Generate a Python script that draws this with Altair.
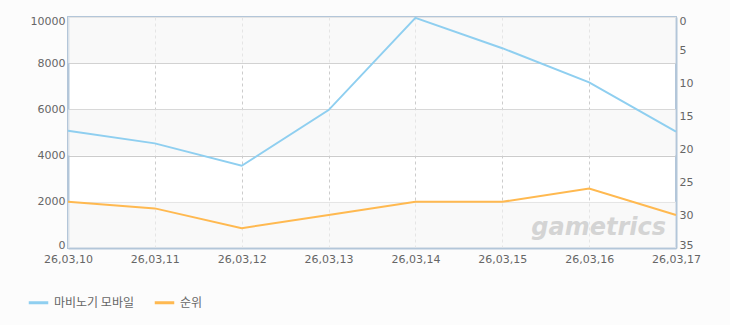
import altair as alt
import pandas as pd

dates = ["26,03,10", "26,03,11", "26,03,12", "26,03,13", "26,03,14", "26,03,15", "26,03,16", "26,03,17"]
players = [5080, 4530, 3560, 5970, 9960, 8650, 7170, 5040]
ranks = [28, 29, 32, 30, 28, 28, 26, 30]
series = ["마비노기 모바일", "순위"]
band_lo = [0, 4000, 8000]
band_hi = [2000, 6000, 10000]

df_blue = pd.DataFrame({"date": dates, "value": players, "series": series[0]})
df_org = pd.DataFrame({"date": dates, "rank": ranks, "series": series[1]})
df_band = pd.DataFrame({"lo": band_lo, "hi": band_hi})

FONT = "Noto Sans CJK KR"
NUMFONT = "DejaVu Sans"
AX = "#b3c6d9"
GRID = "#cccccc"
LAB = "#666666"

color = alt.Color(
    "series:N",
    scale=alt.Scale(domain=series, range=["#8fcff0", "#ffb950"]),
    legend=alt.Legend(
        title=None, orient="none", legendX=-41, legendY=274, direction="horizontal",
        symbolType="stroke", symbolStrokeWidth=3, symbolSize=380,
        labelFont=FONT, labelFontSize=12, labelColor=LAB, columnPadding=14,
    ),
)

xenc = alt.X(
    "date:O", sort=dates, scale=alt.Scale(padding=0),
    axis=alt.Axis(title=None, labelAngle=0, labelFont=NUMFONT, labelFontSize=11, labelColor=LAB,
                  domainColor=AX, domainWidth=2, ticks=False, labelPadding=5,
                  grid=True, gridColor=GRID, gridDash=[3, 3], gridWidth=1),
)

bands = alt.Chart(df_band).mark_rect(color="#f5f5f5", opacity=0.6).encode(
    y=alt.Y("lo:Q", scale=alt.Scale(domain=[0, 10000]), axis=None),
    y2="hi:Q",
)

blue = alt.Chart(df_blue).mark_line(strokeWidth=2).encode(
    x=xenc,
    y=alt.Y("value:Q", scale=alt.Scale(domain=[0, 10000], nice=False),
            axis=alt.Axis(title=None, orient="left", values=[0, 2000, 4000, 6000, 8000, 10000],
                          format="d", labelFlush=True, labelFlushOffset=2,
                          labelFont=NUMFONT, labelFontSize=11, labelColor=LAB, ticks=False,
                          labelPadding=3, domainColor=AX, domainWidth=2,
                          grid=True, gridColor=GRID, gridWidth=1)),
    color=color,
)

orange = alt.Chart(df_org).mark_line(strokeWidth=2).encode(
    x=xenc,
    y=alt.Y("rank:Q", scale=alt.Scale(domain=[0, 35], reverse=True, nice=False),
            axis=alt.Axis(title=None, orient="right", values=[0, 5, 10, 15, 20, 25, 30, 35],
                          format="d", labelFlush=True, labelFlushOffset=2,
                          labelFont=NUMFONT, labelFontSize=11, labelColor=LAB, ticks=False,
                          labelPadding=3, domainColor=AX, domainWidth=2, grid=False)),
    color=color,
)

watermark = alt.Chart(pd.DataFrame({"t": ["gametrics"]})).mark_text(
    font="DejaVu Sans", fontSize=24, fontWeight="bold", fontStyle="italic",
    color="#d4d4d4", align="right", baseline="alphabetic",
).encode(text="t:N", x=alt.value(598), y=alt.value(218))

chart = alt.layer(bands, blue, orange, watermark).resolve_scale(y="independent").properties(
    width=608, height=231,
    autosize=alt.AutoSizeParams(type="none"),
    padding={"left": 68, "top": 17, "right": 54, "bottom": 77},
    background="#fcfcfc",
).configure_view(stroke=AX, strokeWidth=2, fill="#ffffff")

chart.save("out.html", embed_options={"renderer": "svg", "actions": False})
